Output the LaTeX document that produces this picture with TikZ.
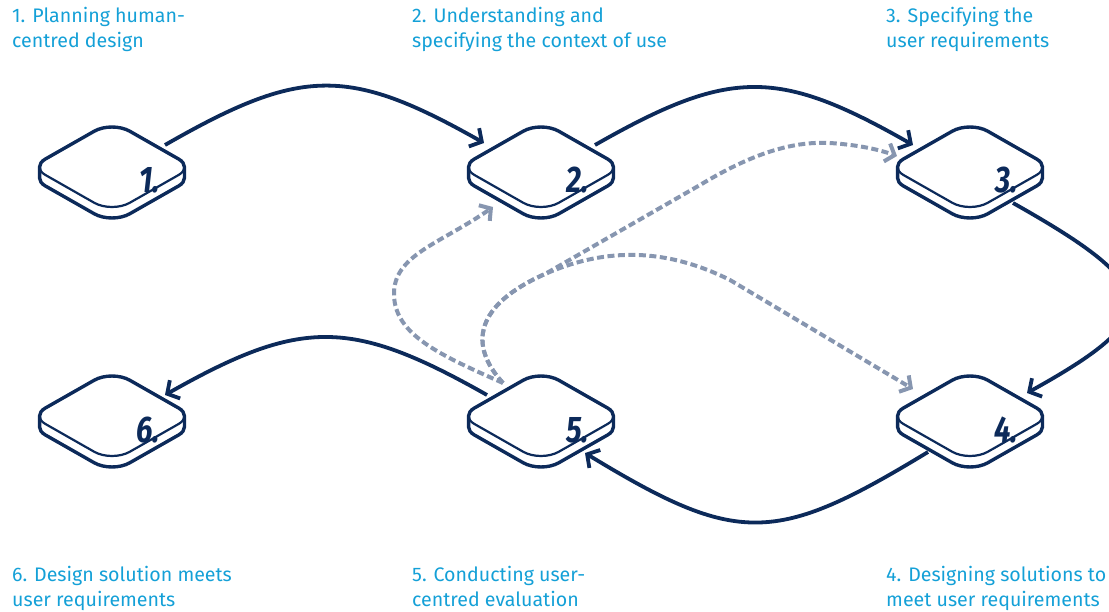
\documentclass[tikz,border=0pt]{standalone}
\usepackage{fontspec}
\usepackage{graphicx}
\setmainfont{Fira Sans}
\usetikzlibrary{arrows.meta,calc}

\definecolor{navy}{RGB}{12,42,90}
\definecolor{steel}{RGB}{135,150,176}
\definecolor{caption}{RGB}{20,160,215}

% outline of a tile: upper half of the top face, the two short sides,
% and the lower half of the base (11pt below the top face)
\def\tilesilhouette{
  (-72.45,0) .. controls (-72.46,-2.87) and (-70.54,-5.73) .. (-66.7,-7.92)
  -- (-17.73,-35.8) .. controls (-7.94,-41.38) and (7.94,-41.38) .. (17.73,-35.8)
  -- (66.7,-7.92) .. controls (70.54,-5.73) and (72.46,-2.87) .. (72.45,0)
  -- (72.45,11) .. controls (72.46,13.87) and (70.54,16.73) .. (66.7,18.92)
  -- (17.73,46.8) .. controls (7.94,52.38) and (-7.94,52.38) .. (-17.73,46.8)
  -- (-66.7,18.92) .. controls (-70.54,16.73) and (-72.46,13.87) .. (-72.45,11)
  -- cycle}
% lower rim of the top face
\def\tilerim{
  (-72.45,0) .. controls (-72.46,2.87) and (-70.54,5.73) .. (-66.7,7.92)
  -- (-17.73,35.8) .. controls (-7.94,41.38) and (7.94,41.38) .. (17.73,35.8)
  -- (66.7,7.92) .. controls (70.54,5.73) and (72.46,2.87) .. (72.45,0)}

\tikzset{
  tile/.pic={
    \fill[white] \tilesilhouette;
    \draw[navy, line width=3.4pt, line join=round] \tilesilhouette;
    \draw[navy, line width=2.2pt, line cap=round] \tilerim;
  },
  num/.style={inner sep=0pt, text=navy, anchor=base east,
    font=\fontsize{37}{37}\selectfont\bfseries\itshape},
  caption/.style={inner sep=0pt, anchor=base west, align=left, text=caption,
    font=\fontsize{19.6}{25}\selectfont},
  flow/.style={draw=navy, line width=3.8pt,
    -{Straight Barb[length=9pt,width=21pt]}},
  feedback/.style={draw=steel, line width=4pt, dash pattern=on 7pt off 3.5pt,
    -{Straight Barb[length=8pt,width=19pt]}},
}

\begin{document}
\begin{tikzpicture}[x=1pt, y=-1pt]
\useasboundingbox (0,0) rectangle (1109,612);

% tile centres
\coordinate (n1) at (112,167);
\coordinate (n2) at (541,167);
\coordinate (n3) at (970,167);
\coordinate (n6) at (112,416);
\coordinate (n5) at (541,416);
\coordinate (n4) at (970,416);

\foreach \n in {n1,n2,n3,n4,n5,n6} { \pic at (\n) {tile}; }

\node[num] (d1) at ($(n1)+(48,26)$) {\scalebox{0.8}[1]{1.}};
\node[num] (d2) at ($(n2)+(48,26)$) {\scalebox{0.8}[1]{2.}};
\node[num] (d3) at ($(n3)+(48,26)$) {\scalebox{0.8}[1]{3.}};
\node[num] (d4) at ($(n4)+(48,26)$) {\scalebox{0.8}[1]{4.}};
\node[num] (d5) at ($(n5)+(48,26)$) {\scalebox{0.8}[1]{5.}};
\node[num] (d6) at ($(n6)+(48,26)$) {\scalebox{0.8}[1]{6.}};

% main sequence
\begin{scope}
\clip (0,0) rectangle (1109,612);
\draw[flow] ($(n1)+(53,-22)$) .. controls +(136,-78) and +(-136,-77) .. ($(n2)+(-57,-24)$);
\draw[flow] ($(n2)+(54,-22)$) .. controls +(135,-77) and +(-135,-77) .. ($(n3)+(-57,-22)$);
\draw[flow] ($(n3)+(43,36)$) .. controls +(151,85) and +(139,-77) .. ($(n4)+(57,-23)$);
\draw[flow] ($(n4)+(-42,36)$) .. controls +(-153,93) and +(153,93) .. ($(n5)+(44,37)$);
\draw[flow] ($(n5)+(-54,-21)$) .. controls +(-136,-77) and +(136,-77) .. ($(n6)+(53,-21)$);
\end{scope}

% iteration paths from the evaluation step
\draw[feedback] ($(n5)+(-38,-33)$) .. controls +(-63,-28) and +(1,40) .. ($(n5)+(-147,-121)$)
  .. controls +(-1,-40) and +(-53,37) .. ($(n2)+(-48,40)$);
\draw[feedback] ($(n5)+(-38,-33)$) .. controls +(-35,-38) and +(-70,31) .. ($(n5)+(4,-142)$)
  -- ($(n5)+(159,-231)$) .. controls +(50,-30) and +(-40,-2) .. ($(n5)+(289,-273)$)
  .. controls +(30,2) and +(-17,-6) .. ($(n3)+(-73,-11)$);
\draw[feedback] ($(n5)+(-38,-33)$) .. controls +(-35,-38) and +(-70,31) .. ($(n5)+(4,-142)$)
  .. controls +(55,-24) and +(-70,-35) .. ($(n5)+(189,-136)$) -- ($(n4)+(-57,-27)$);

% captions (anchored at the baseline of their second line)
\node[caption] (c1) at (12,48) {1. Planning human-\\centred design};
\node[caption] (c2) at (412,48) {2. Understanding and\\specifying the context of use};
\node[caption] (c3) at (886,48) {3. Specifying the\\user requirements};
\node[caption] (c6) at (12,606) {6. Design solution meets\\user requirements};
\node[caption] (c5) at (412,606) {5. Conducting user-\\centred evaluation};
\node[caption] (c4) at (886,606) {4. Designing solutions to\\meet user requirements};
\end{tikzpicture}
\end{document}
